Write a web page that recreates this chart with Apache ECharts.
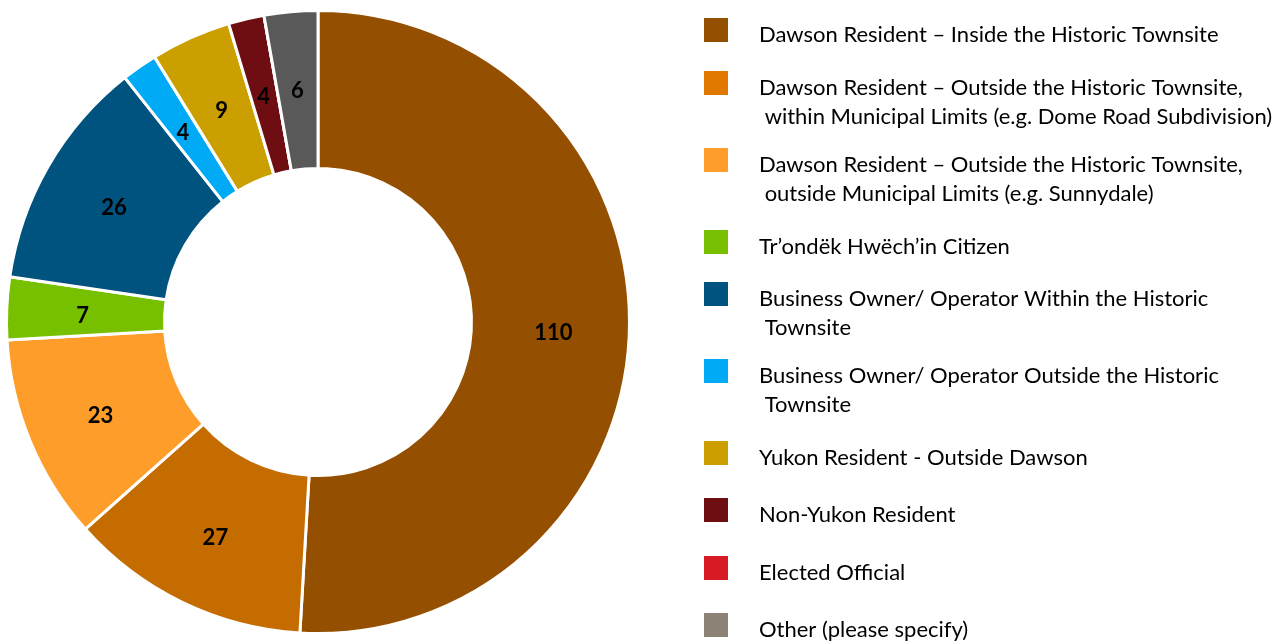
<!DOCTYPE html>
<html><head><meta charset="utf-8">
<script src="https://cdn.jsdelivr.net/npm/echarts@6/dist/echarts.min.js"></script>
<style>html,body{margin:0;padding:0;background:#fff}#c{width:1285px;height:644px}</style>
</head><body><div id="c"></div>
<script>
const categories = [
  'Dawson Resident – Inside the Historic Townsite',
  'Dawson Resident – Outside the Historic Townsite,\n within Municipal Limits (e.g. Dome Road Subdivision)',
  'Dawson Resident – Outside the Historic Townsite,\n outside Municipal Limits (e.g. Sunnydale)',
  'Tr’ondëk Hwëch’in Citizen',
  'Business Owner/ Operator Within the Historic\n Townsite',
  'Business Owner/ Operator Outside the Historic\n Townsite',
  'Yukon Resident - Outside Dawson',
  'Non-Yukon Resident',
  'Elected Official',
  'Other (please specify)'
];
const values = [110, 27, 23, 7, 26, 4, 9, 4, 0, 6];
const sliceColors = ['#954F00','#C46C00','#FF9D2A','#77C000','#00537F','#00AAF5','#CC9F00','#6E0D12','#D81A22','#595959'];
const legendColors = ['#954F00','#E07800','#FF9E2C','#77BF00','#00537F','#00AAF5','#CC9E00','#6E0D12','#D81A22','#8C8376'];

// layout (legend icon top positions, px)
const iconTops = [18, 71, 148, 230, 282, 359, 441, 498, 556, 613];
const LH = 29, SHIFT = 5, IH = 24;

const legends = categories.map((name, i) => {
  const lines = name.split('\n');
  const padH = 2 * SHIFT + (lines.length - 1) * LH;
  const h = padH + lines.length * LH;
  const off = Math.min(0, IH / 2 - h / 2);
  return {
    orient: 'vertical', left: 704, top: iconTops[i] + off, padding: 0,
    itemWidth: 24, itemHeight: IH, icon: 'rect', selectedMode: false,
    data: [{ name: name, itemStyle: { color: legendColors[i], borderWidth: 0 } }],
    formatter: n => '{p| }\n' + n.split('\n').map(l => '{t|' + l + '}').join('\n'),
    textStyle: {
      color: '#000', fontFamily: 'Lato', fontSize: 22, padding: [0, 0, 0, 26],
      rich: {
        p: { fontSize: 2, lineHeight: padH, height: padH },
        t: { color: '#000', fontFamily: 'Lato', fontSize: 22, lineHeight: LH }
      }
    }
  };
});

const chart = echarts.init(document.getElementById('c'), null, { renderer: 'canvas' });
chart.setOption({
  animation: false,
  backgroundColor: '#fff',
  legend: legends,
  series: [{
    type: 'pie',
    center: [318, 322],
    radius: [153.5, 311.5],
    startAngle: 90,
    clockwise: true,
    avoidLabelOverlap: false,
    emphasis: { disabled: true },
    label: {
      show: true, position: 'inside',
      formatter: p => (p.value ? '{p| }\n{v|' + p.value + '}' : ''),
      color: '#000', fontFamily: 'Lato', fontWeight: 'bold', fontSize: 22,
      textBorderWidth: 0,
      rich: {
        p: { fontSize: 2, lineHeight: 8, height: 8 },
        v: { color: '#000', fontFamily: 'Lato', fontWeight: 'bold', fontSize: 22, lineHeight: 26 }
      }
    },
    labelLine: { show: false },
    itemStyle: { borderColor: '#fff', borderWidth: 3 },
    data: categories.map((n, i) => ({ name: n, value: values[i], itemStyle: { color: sliceColors[i] } }))
  }]
});
</script></body></html>
